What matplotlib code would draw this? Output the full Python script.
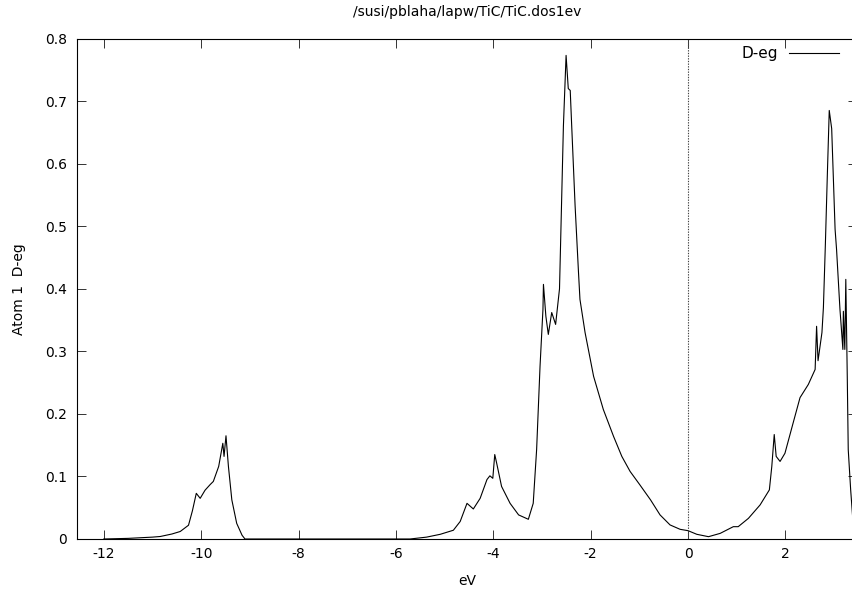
import matplotlib
matplotlib.use("Agg")
import matplotlib.pyplot as plt

title = "/susi/pblaha/lapw/TiC/TiC.dos1ev"
xlabel = "eV"
ylabel = "Atom 1  D-eg"
series_label = "D-eg"

x_ticks = [-12, -10, -8, -6, -4, -2, 0, 2]
y_ticks = [0, 0.1, 0.2, 0.3, 0.4, 0.5, 0.6, 0.7, 0.8]
y_tick_labels = ["0", "0.1", "0.2", "0.3", "0.4", "0.5", "0.6", "0.7", "0.8"]

energy = [-12.0, -11.5, -11.0, -10.84, -10.6, -10.43, -10.26, -10.18, -10.10, -10.02,
          -9.92, -9.815, -9.75, -9.64, -9.555, -9.53, -9.49, -9.44, -9.37, -9.27,
          -9.16, -9.10, -8.0, -6.5, -5.71, -5.37, -5.09, -4.82, -4.68, -4.54,
          -4.41, -4.27, -4.13, -4.07, -4.01, -3.97, -3.93, -3.83, -3.655, -3.48,
          -3.28, -3.18, -3.11, -3.04, -2.98, -2.97, -2.92, -2.87, -2.80, -2.72,
          -2.64, -2.60, -2.56, -2.505, -2.46, -2.42, -2.39, -2.32, -2.25, -2.22,
          -2.115, -1.94, -1.74, -1.53, -1.36, -1.19, -0.99, -0.77, -0.575, -0.37,
          -0.164, 0.0, 0.18, 0.42, 0.66, 0.93, 1.03, 1.24, 1.48, 1.67,
          1.72, 1.77, 1.81, 1.89, 1.99, 2.16, 2.30, 2.47, 2.61, 2.64,
          2.67, 2.75, 2.78, 2.82, 2.86, 2.90, 2.95, 3.02, 3.05, 3.12,
          3.14, 3.18, 3.19, 3.22, 3.24, 3.27, 3.29, 3.34, 3.38]

dos = [0.0, 0.001, 0.003, 0.004, 0.008, 0.012, 0.022, 0.045, 0.073, 0.065,
       0.078, 0.087, 0.092, 0.116, 0.153, 0.132, 0.165, 0.116, 0.0625, 0.025,
       0.006, 0.0, 0.0, 0.0, 0.0, 0.003, 0.0075, 0.014, 0.028, 0.057,
       0.048, 0.065, 0.095, 0.101, 0.097, 0.135, 0.121, 0.084, 0.057, 0.0385,
       0.0315, 0.057, 0.143, 0.276, 0.367, 0.407, 0.356, 0.327, 0.362, 0.343,
       0.40, 0.53, 0.66, 0.773, 0.72, 0.717, 0.661, 0.533, 0.426, 0.383,
       0.330, 0.260, 0.207, 0.164, 0.132, 0.108, 0.0866, 0.0625, 0.0385, 0.0225,
       0.0155, 0.0133, 0.0075, 0.0037, 0.009, 0.0197, 0.0197, 0.033, 0.0545, 0.0785,
       0.116, 0.167, 0.132, 0.124, 0.137, 0.186, 0.226, 0.247, 0.271, 0.340,
       0.285, 0.330, 0.37, 0.47, 0.58, 0.685, 0.656, 0.495, 0.463, 0.367,
       0.346, 0.303, 0.364, 0.303, 0.415, 0.260, 0.143, 0.0785, 0.036]

fermi_level = 0.0

plt.rcParams['font.family'] = ['DejaVu Sans']
plt.rcParams['font.size'] = 10

fig = plt.figure(figsize=(8.53, 5.94), dpi=100)
ax = fig.add_axes([77 / 853, 55 / 594, (857 - 77) / 853, (539 - 38.5) / 594])

ax.plot(energy, dos, color='black', lw=0.8, label=series_label)
ax.axvline(fermi_level, color='#444444', lw=0.8, ls=(0, (1.2, 1.2)))

ax.set_xlim(-12.55, 3.47)
ax.set_ylim(0, 0.8)
ax.set_xticks(x_ticks)
ax.set_xticklabels([str(t) for t in x_ticks])
ax.set_yticks(y_ticks)
ax.set_yticklabels(y_tick_labels)

ax.tick_params(direction='in', length=6.5, width=0.7, top=True, right=True,
               color='#333333')
ax.tick_params(axis='x', pad=6)
ax.tick_params(axis='y', pad=7)
for s in ax.spines.values():
    s.set_linewidth(0.8)
    s.set_color('black')

ax.set_title(title, fontsize=10, pad=16)
ax.set_xlabel(xlabel, labelpad=9)
ax.set_ylabel(ylabel, labelpad=14)

leg = ax.legend(loc='upper right', frameon=False, markerfirst=False,
                fontsize=11, handlelength=3.3, handletextpad=0.7,
                borderaxespad=0.1, bbox_to_anchor=(0.987, 1.0))

fig.savefig("out.png", dpi=100)
